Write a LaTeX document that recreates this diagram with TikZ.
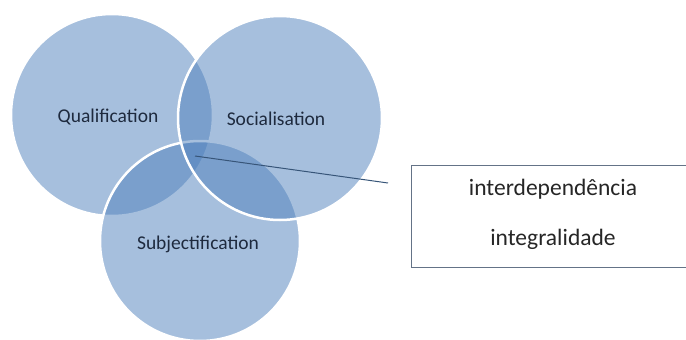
\documentclass[tikz,border=0pt]{standalone}
\usepackage{fontspec}
\setmainfont{Carlito}
\definecolor{vennblue}{RGB}{79,129,189}
\definecolor{labelink}{RGB}{30,42,62}
\definecolor{boxline}{RGB}{100,115,135}
\definecolor{leader}{RGB}{55,85,120}
\begin{document}
\begin{tikzpicture}[x=1pt,y=-1pt,
  venn/.style={fill=vennblue,fill opacity=0.5,draw=white,draw opacity=1,line width=2.5pt},
  vlabel/.style={text=labelink,font=\fontsize{19.5}{23}\selectfont},
  boxtext/.style={text=black!85,font=\fontsize{23.5}{28}\selectfont}]
\useasboundingbox (0,0) rectangle (686,340);
\fill[white] (0,0) rectangle (686,340);
\path[venn] (112,115) circle[radius=101];
\path[venn] (200,241) circle[radius=100];
\path[venn] (280,118) circle[radius=102];
\node[vlabel] (qual) at (108,117) {Qualification};
\node[vlabel] (soc) at (276,119) {Socialisation};
\node[vlabel] (subj) at (198,244) {Subjectification};
\draw[boxline,line width=1pt] (411,165) rectangle (700,267);
\node[boxtext] (inter) at (553,189) {interdependência};
\node[boxtext] (integ) at (553,239) {integralidade};
\coordinate (core) at (195,156);
\coordinate (tip) at (388,183);
\draw[leader,line width=1pt] (core) -- (tip);
\end{tikzpicture}
\end{document}
